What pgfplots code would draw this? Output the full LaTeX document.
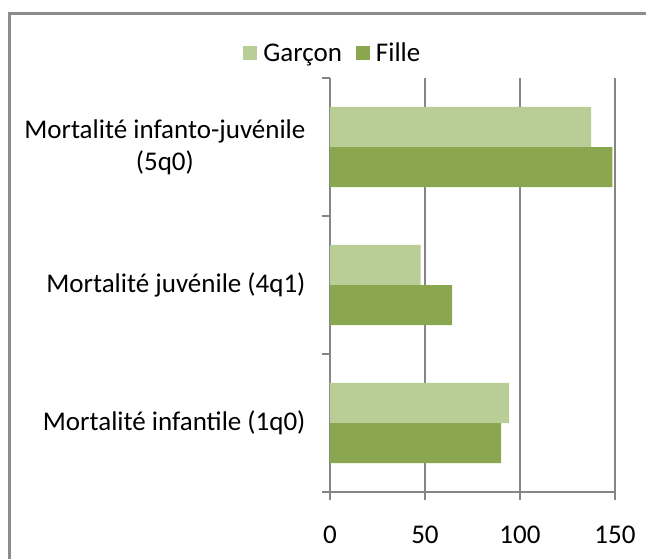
\documentclass[border=0pt]{standalone}
\usepackage{fontspec}
\setmainfont{Carlito}
\usepackage{pgfplots}
\pgfplotsset{compat=1.18}
\definecolor{garcon}{RGB}{185,206,150}
\definecolor{fille}{RGB}{138,166,78}
\definecolor{axgray}{RGB}{134,134,134}

\begin{document}
\begin{tikzpicture}[x=1pt,y=1pt]
  \path[use as bounding box] (-330,-66) rectangle (316,492);
  \draw[line width=3pt, axgray!95] (-320.5,-120) -- (-320.5,478) -- (420,478);
  \begin{axis}[
      at={(0pt,0pt)}, anchor=south west,
      scale only axis, width=285pt, height=414pt,
      xbar, bar width=0.29,
      xmin=0, xmax=150, ymin=-0.5, ymax=2.5,
      axis lines=left,
      axis line style={-, draw=axgray, line width=1.2pt},
      xtick={0,50,100,150},
      xmajorgrids, grid style={draw=axgray, line width=1.2pt},
      tick style={draw=axgray, line width=1.2pt},
      tick align=outside, major tick length=8pt,
      ytick={-0.5,0.5,1.5,2.5}, yticklabels={},
      extra y ticks={0,1,2},
      extra y tick labels={{Mortalité infantile (1q0)},{Mortalité juvénile (4q1)},{Mortalité infanto-juvénile\\(5q0)}},
      extra y tick style={major tick length=0pt, yticklabel style={align=center, xshift=-21pt}},
      font=\fontsize{27}{32}\selectfont,
      /pgf/number format/assume math mode=true,
      xticklabel style={yshift=-22pt},
      legend style={at={(0.01,1.06)}, anchor=center, draw=none, fill=none,
        legend columns=2, font=\fontsize{27}{32}\selectfont,
        /tikz/every odd column/.append style={column sep=4pt},
        /tikz/every even column/.append style={column sep=12pt}},
      legend image code/.code={\fill[#1] (0pt,-7pt) rectangle (14pt,7pt);},
    ]
    \addplot[draw=none, fill=garcon, bar shift=0.145] coordinates {
      (94.3,0) (47.7,1) (137.5,2)
    };
    \addlegendentry{Garçon}
    \addplot[draw=none, fill=fille, bar shift=-0.145] coordinates {
      (90.1,0) (64.3,1) (148.6,2)
    };
    \addlegendentry{Fille}
  \end{axis}
\end{tikzpicture}
\end{document}
